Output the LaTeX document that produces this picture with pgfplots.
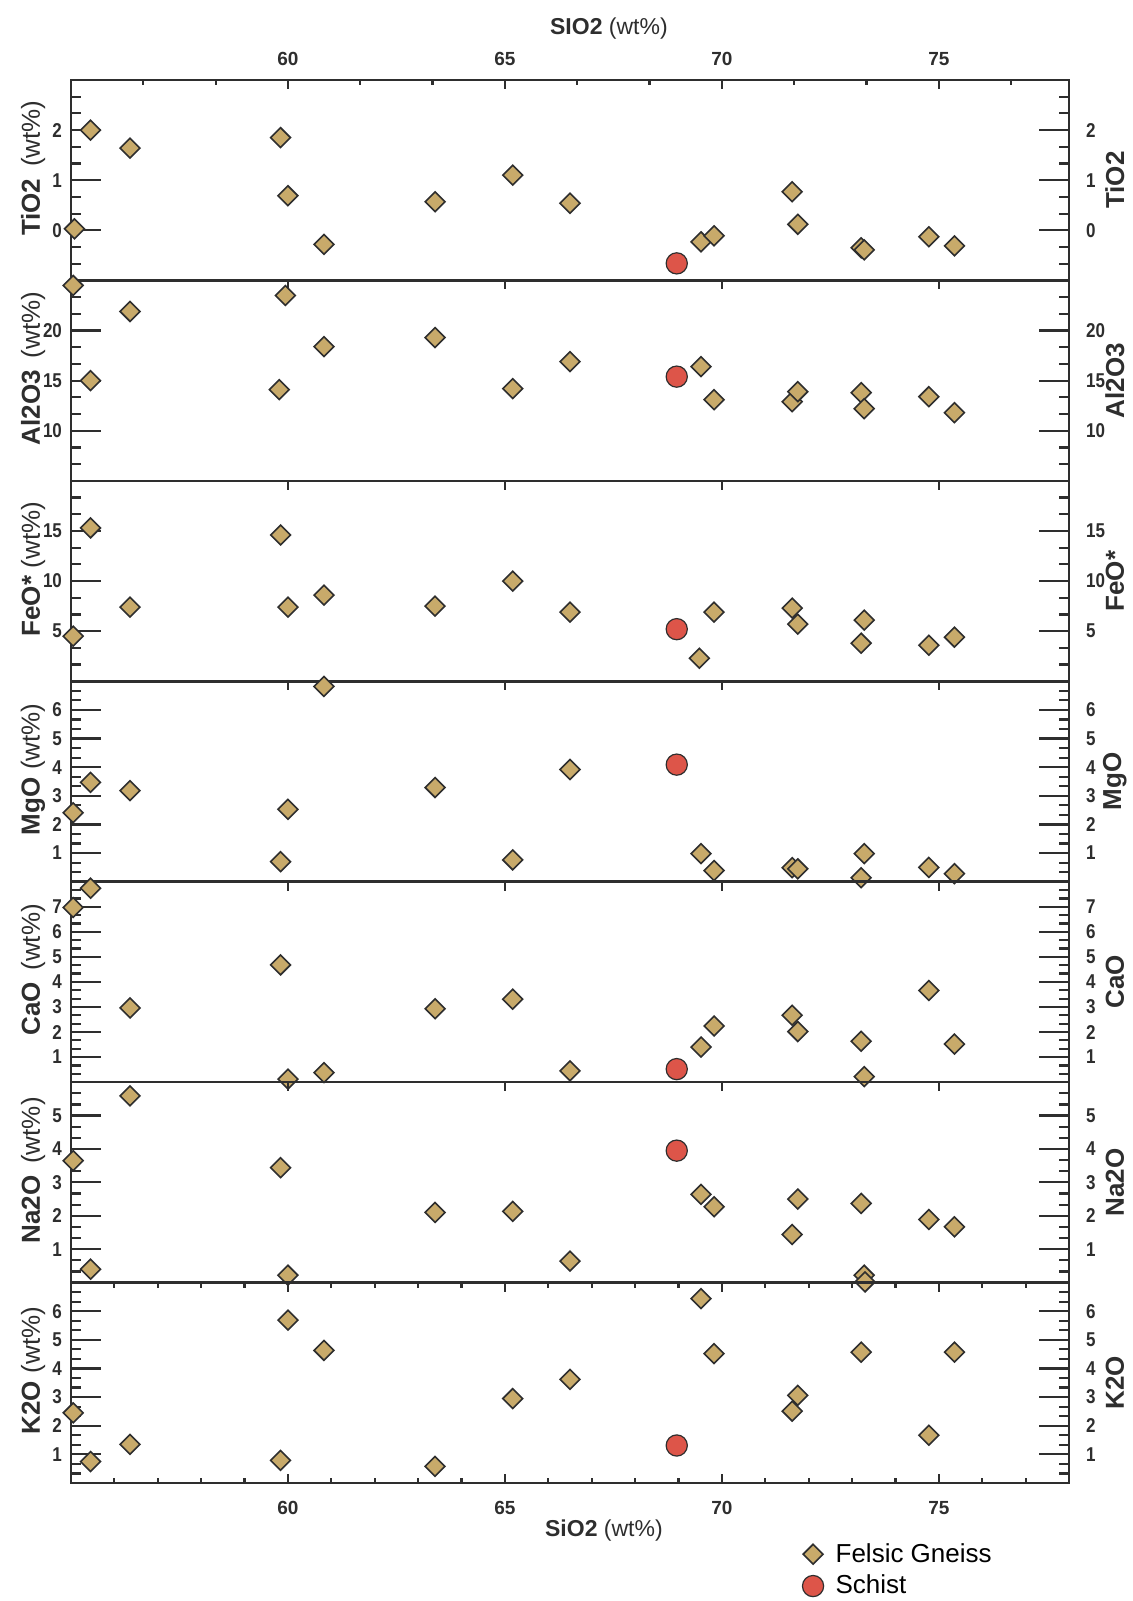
\documentclass[border=0pt]{standalone}
\usepackage{fontspec}
\setmainfont{Liberation Sans}
\newfontfamily\condfam[FakeStretch=0.85]{Liberation Sans}
\usepackage{pgfplots}
\pgfplotsset{compat=1.18}

\definecolor{ink}{HTML}{2E2E2E}
\definecolor{gneissfill}{HTML}{C8AA6A}
\definecolor{schistfill}{HTML}{DD5549}

\newcommand\xlab{\bfseries\fontsize{9.5}{10}\selectfont}
\newcommand\ylab{\condfam\bfseries\fontsize{10}{11}\selectfont}
\newcommand\labfont{\fontsize{13}{15}\selectfont}

\pgfplotsset{
  frame/.style={
    scale only axis, width=499pt, height=100.21pt,
    xmin=55, xmax=78, clip=false,
    axis line style={line width=1.3pt, draw=ink},
    every tick/.append style={line width=1.1pt, draw=ink},
    tick align=inside,
    /pgf/number format/assume math mode=true,
    xticklabel style={font=\xlab, text=ink},
    yticklabel style={font=\ylab, text=ink},
    label style={font=\labfont, text=ink},
  },
  % frame, long y ticks on both sides, left labels and the data
  dataaxis/.style={frame,
    xtick=\empty,
    ytick pos=both, yticklabel pos=left,
    major tick length=15pt, minor tick length=5pt,
    yticklabel style={xshift=-1pt},
    ylabel style={at={(axis description cs:-0.038,0.56)}, anchor=center},
  },
  % short x ticks on the upper edge, right-hand labels
  tickaxis/.style={frame,
    xtick={60,65,70,75},
    xtick pos=right, xticklabel pos=right,
    major tick length=4.5pt, minor tick length=2.5pt,
    ytick pos=right, yticklabel pos=right,
    ytick style={draw=none},
    yticklabel style={xshift=5pt},
    ylabel style={at={(axis description cs:1.046,0.5)}, anchor=center},
  },
  gneiss/.style={only marks, mark=square*, mark size=3.5pt,
    mark options={rotate=45, fill=gneissfill, draw=ink, line width=0.8pt}},
  schist/.style={only marks, mark=*, mark size=5.3pt,
    mark options={fill=schistfill, draw=ink, line width=0.6pt}},
}

\begin{document}
\begin{tikzpicture}
\path[use as bounding box] (0,0) rectangle (566pt,800.5pt);

% ---------------- TiO2 ----------------
\begin{axis}[tickaxis, at={(35.5pt,660.29pt)}, anchor=south west,
  ymin=-1, ymax=3, ytick={0,1,2},
  minor xtick={56.667,58.333,61.667,63.333,66.667,68.333,71.667,73.333,76.667},
  xticklabel style={yshift=3.5pt},
  xlabel={\textbf{SIO2} (wt\%)},
  xlabel style={at={(axis description cs:0.539,1.259)}, anchor=center, font=\fontsize{11.5}{13}\selectfont},
  ylabel={\textbf{TiO2}}]
\end{axis}
\begin{axis}[dataaxis, at={(35.5pt,660.29pt)}, anchor=south west,
  ymin=-1, ymax=3, ytick={0,1,2},
  minor ytick={-0.6667,-0.3333,0.3333,0.6667,1.3333,1.6667,2.3333,2.6667},
  ylabel={\textbf{TiO2}\hspace{0.45em}(wt\%)}]
\addplot[gneiss] coordinates {
  (55.08,0.03) (55.45,2.00) (56.36,1.64) (59.83,1.85) (60.00,0.69)
  (60.83,-0.28) (63.39,0.57) (65.18,1.10) (66.50,0.54) (69.52,-0.23)
  (69.82,-0.11) (71.62,0.77) (71.75,0.12) (73.21,-0.35) (73.28,-0.39)
  (74.77,-0.13) (75.36,-0.31)};
\addplot[schist] coordinates {(68.96,-0.66)};
\end{axis}

% ---------------- Al2O3 ----------------
\begin{axis}[tickaxis, at={(35.5pt,560.07pt)}, anchor=south west,
  ymin=5, ymax=25, ytick={10,15,20}, xticklabel=\empty,
  ylabel={\textbf{Al2O3}}]
\end{axis}
\begin{axis}[dataaxis, at={(35.5pt,560.07pt)}, anchor=south west,
  ymin=5, ymax=25, ytick={10,15,20},
  minor ytick={6.667,8.333,11.667,13.333,16.667,18.333,21.667,23.333},
  ylabel={\textbf{Al2O3}\hspace{0.45em}(wt\%)}]
\addplot[gneiss] coordinates {
  (55.05,24.5) (55.45,15.0) (56.36,21.9) (59.80,14.1) (59.94,23.5)
  (60.83,18.4) (63.39,19.3) (65.18,14.2) (66.50,16.9) (69.52,16.4)
  (69.82,13.1) (71.62,12.9) (71.75,13.9) (73.21,13.8) (73.28,12.2)
  (74.77,13.4) (75.36,11.8)};
\addplot[schist] coordinates {(68.96,15.4)};
\end{axis}

% ---------------- FeO* ----------------
\begin{axis}[tickaxis, at={(35.5pt,459.86pt)}, anchor=south west,
  ymin=0, ymax=20, ytick={5,10,15}, xticklabel=\empty,
  ylabel={\textbf{FeO*}}]
\end{axis}
\begin{axis}[dataaxis, at={(35.5pt,459.86pt)}, anchor=south west,
  ymin=0, ymax=20, ytick={5,10,15},
  minor ytick={1.667,3.333,6.667,8.333,11.667,13.333,16.667,18.333},
  ylabel={\textbf{FeO*}\hspace{0.3em}(wt\%)}]
\addplot[gneiss] coordinates {
  (55.05,4.5) (55.45,15.3) (56.36,7.4) (59.83,14.6) (60.00,7.4)
  (60.83,8.6) (63.39,7.5) (65.18,10.0) (66.50,6.9) (69.48,2.3)
  (69.82,6.9) (71.62,7.3) (71.75,5.7) (73.28,6.1) (73.21,3.8)
  (74.77,3.6) (75.36,4.4)};
\addplot[schist] coordinates {(68.96,5.2)};
\end{axis}

% ---------------- MgO ----------------
\begin{axis}[tickaxis, at={(35.5pt,359.64pt)}, anchor=south west,
  ymin=0, ymax=7, ytick={1,...,6}, xticklabel=\empty,
  ylabel={\textbf{MgO}}]
\end{axis}
\begin{axis}[dataaxis, at={(35.5pt,359.64pt)}, anchor=south west,
  ymin=0, ymax=7, ytick={1,...,6},
  minor ytick={0.3333,0.6667,1.3333,1.6667,2.3333,2.6667,3.3333,3.6667,
    4.3333,4.6667,5.3333,5.6667,6.3333,6.6667},
  ylabel={\textbf{MgO}\hspace{0.3em}(wt\%)}]
\addplot[gneiss] coordinates {
  (55.05,2.41) (55.45,3.47) (56.36,3.18) (59.83,0.70) (60.00,2.53)
  (60.83,6.82) (63.39,3.29) (65.18,0.76) (66.50,3.92) (69.52,0.98)
  (69.82,0.39) (71.62,0.49) (71.75,0.45) (73.28,0.98) (73.21,0.14)
  (74.77,0.50) (75.36,0.28)};
\addplot[schist] coordinates {(68.96,4.09)};
\end{axis}

% ---------------- CaO ----------------
\begin{axis}[tickaxis, at={(35.5pt,259.43pt)}, anchor=south west,
  ymin=0, ymax=8, ytick={1,...,7}, xticklabel=\empty,
  ylabel={\textbf{CaO}}]
\end{axis}
\begin{axis}[dataaxis, at={(35.5pt,259.43pt)}, anchor=south west,
  ymin=0, ymax=8, ytick={1,...,7},
  minor ytick={0.3333,0.6667,1.3333,1.6667,2.3333,2.6667,3.3333,3.6667,
    4.3333,4.6667,5.3333,5.6667,6.3333,6.6667,7.3333,7.6667},
  ylabel={\textbf{CaO}\hspace{0.45em}(wt\%)}]
\addplot[gneiss] coordinates {
  (55.05,6.97) (55.45,7.74) (56.36,2.96) (59.83,4.68) (60.00,0.12)
  (60.83,0.38) (63.39,2.93) (65.18,3.31) (66.50,0.45) (69.52,1.40)
  (69.82,2.24) (71.62,2.67) (71.75,2.02) (73.21,1.63) (73.28,0.22)
  (74.77,3.66) (75.36,1.52)};
\addplot[schist] coordinates {(68.96,0.52)};
\end{axis}

% ---------------- Na2O ----------------
\begin{axis}[tickaxis, at={(35.5pt,159.21pt)}, anchor=south west,
  ymin=0, ymax=6, ytick={1,...,5}, xticklabel=\empty,
  ylabel={\textbf{Na2O}}]
\end{axis}
\begin{axis}[dataaxis, at={(35.5pt,159.21pt)}, anchor=south west,
  ymin=0, ymax=6, ytick={1,...,5},
  minor ytick={0.3333,0.6667,1.3333,1.6667,2.3333,2.6667,3.3333,3.6667,
    4.3333,4.6667,5.3333,5.6667},
  ylabel={\textbf{Na2O}\hspace{0.45em}(wt\%)}]
\addplot[gneiss] coordinates {
  (55.05,3.65) (55.45,0.40) (56.36,5.59) (59.83,3.44) (60.00,0.22)
  (63.39,2.10) (65.18,2.13) (66.50,0.64) (69.52,2.64) (69.82,2.27)
  (71.62,1.44) (71.75,2.50) (73.21,2.37) (73.28,0.22) (73.30,0.02)
  (74.77,1.89) (75.36,1.67)};
\addplot[schist] coordinates {(68.96,3.95)};
\end{axis}

% ---------------- K2O ----------------
\begin{axis}[tickaxis, at={(35.5pt,59pt)}, anchor=south west,
  ymin=0, ymax=7, ytick={1,...,6},
  xtick pos=both, xticklabel pos=left,
  minor xtick={56,57,58,59,61,62,63,64,66,67,68,69,71,72,73,74,76,77},
  xticklabel style={yshift=-5.5pt},
  xlabel={\textbf{SiO2} (wt\%)},
  xlabel style={at={(axis description cs:0.534,-0.2395)}, anchor=center, font=\fontsize{11.5}{13}\selectfont},
  ylabel={\textbf{K2O}}]
\end{axis}
\begin{axis}[dataaxis, at={(35.5pt,59pt)}, anchor=south west,
  ymin=0, ymax=7, ytick={1,...,6},
  minor ytick={0.3333,0.6667,1.3333,1.6667,2.3333,2.6667,3.3333,3.6667,
    4.3333,4.6667,5.3333,5.6667,6.3333,6.6667},
  ylabel={\textbf{K2O}\hspace{0.3em}(wt\%)},
  legend style={at={(axis description cs:0.7265,-0.259)}, anchor=north west,
    draw=none, fill=none, font=\labfont, row sep=1pt, column sep=4pt},
  legend cell align=left]
\addplot[gneiss] coordinates {
  (55.05,2.45) (55.45,0.75) (56.36,1.35) (59.83,0.79) (60.00,5.69)
  (60.83,4.63) (63.39,0.58) (65.18,2.95) (66.50,3.62) (69.52,6.44)
  (69.82,4.52) (71.62,2.51) (71.75,3.06) (73.21,4.57) (74.77,1.67)
  (75.36,4.57)};
\addlegendentry{Felsic Gneiss}
\addplot[schist] coordinates {(68.96,1.31)};
\addlegendentry{Schist}
\end{axis}
\end{tikzpicture}
\end{document}
